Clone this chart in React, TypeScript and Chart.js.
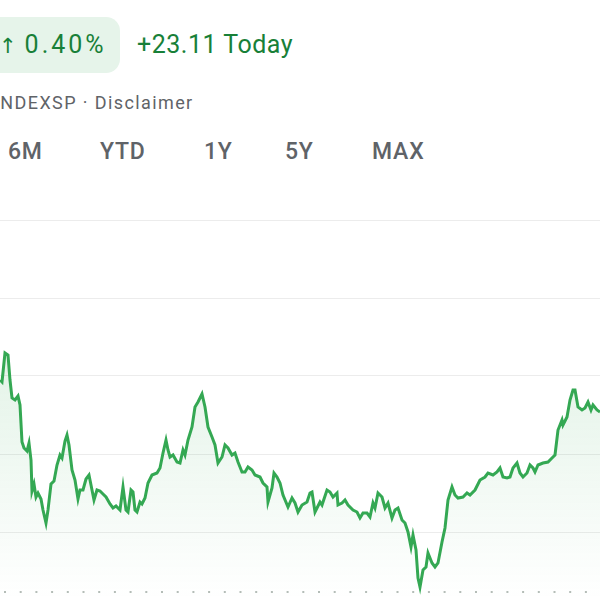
import React, { useEffect, useRef } from "react";
import { Chart, registerables } from "chart.js";

Chart.register(...registerables);

const days: number[] = [
  0, 1, 2.5, 4, 5, 6, 7.5, 9, 10, 11, 12, 13.5, 14.5, 15.5, 16, 17, 18, 19, 20.5, 21.5,
  23, 24, 25.5, 27, 28.5, 30, 31, 32.5, 33.5, 34.5, 36, 37.5, 39, 40, 41.5, 43, 44.5, 45.5, 47, 48.5,
  50, 51.5, 53, 55, 56.5, 58, 60, 61.5, 63, 64, 65.5, 66.5, 67.5, 68.5, 70, 71, 72.5, 74, 76, 78.5,
  80, 81.5, 83, 84, 85, 86.5, 88.5, 90, 91.5, 92.5, 94, 96, 97.5, 99, 101, 102.5, 104, 106, 107.5, 109,
  111, 112.5, 114, 116, 117.5, 119, 121, 122.5, 124, 126, 127.5, 130, 131.5, 133.5, 134, 136, 137, 138.5, 140, 141.5,
  144, 146, 147.5, 149, 151, 153.5, 155, 156, 157.5, 160, 161, 163.5, 165, 166.5, 168.5, 169, 171, 172.5, 174, 176.5,
  178.5, 180, 181.5, 183.5, 185, 186.5, 187.5, 189, 191, 192.5, 194, 196, 197.5, 199, 201, 202.5, 204, 205.5, 206.5, 208,
  209, 210, 211.5, 213, 214, 216, 217.5, 219, 221, 222.5, 224, 226, 227.5, 229, 231.5, 233.5, 235, 237.5, 240, 242.5,
  244, 246.5, 248.5, 250, 251.5, 253.5, 255, 256.5, 258.5, 260, 261.5, 263.5, 265, 266.5, 267.5, 269, 271.5, 274, 276, 277.5,
  279, 281, 281.5, 283.5, 285, 286.5, 287.5, 289, 291, 292.5, 294, 295.5, 296.5, 298.5, 300,
];

const closes: number[] = [
  5598, 5597, 5611.5, 5610.5, 5598, 5589, 5588, 5590, 5585.5, 5567, 5564, 5562.5, 5566.5, 5558, 5542.5, 5546, 5539.5, 5541.5, 5538.5, 5533,
  5526.5, 5533, 5546, 5547.5, 5555.5, 5560.5, 5559, 5567.5, 5570.5, 5565.5, 5553, 5548, 5538.5, 5543, 5543, 5548.5, 5550.5, 5545.5, 5538, 5543,
  5542.5, 5541, 5539.5, 5536, 5534, 5535, 5533, 5544.5, 5533, 5532, 5543, 5542, 5533, 5532, 5537, 5536, 5539, 5546.5, 5550.5, 5551.5,
  5554, 5561.5, 5568, 5563, 5559.5, 5560.5, 5557, 5556.5, 5563, 5560.5, 5568, 5574.5, 5584.5, 5587, 5591, 5584.5, 5574.5, 5569.5, 5565.5, 5556.5,
  5559.5, 5565.5, 5564, 5560.5, 5561.5, 5557, 5552, 5552, 5554.5, 5553, 5550.5, 5549.5, 5546.5, 5544.5, 5537, 5544, 5551.5, 5549.5, 5546.5, 5540.5,
  5534.5, 5539, 5536.5, 5532, 5535.5, 5537, 5541.5, 5542, 5532, 5537, 5535.5, 5543, 5542, 5539.5, 5541.5, 5535.5, 5536.5, 5538, 5535.5, 5533,
  5532, 5529, 5531.5, 5531.5, 5529.5, 5536.5, 5534, 5541.5, 5539.5, 5534, 5536.5, 5529, 5533, 5534, 5528, 5526.5, 5522, 5514.5, 5520.5, 5513,
  5499, 5494.5, 5503, 5504.5, 5511.5, 5506.5, 5504.5, 5506.5, 5517, 5524, 5538, 5544.5, 5540.5, 5539, 5539.5, 5541.5, 5540.5, 5543, 5548, 5549.5,
  5551.5, 5550.5, 5552, 5554, 5549.5, 5549, 5549.5, 5554, 5556.5, 5551.5, 5549.5, 5551.5, 5555.5, 5554, 5552, 5555.5, 5556.5, 5557, 5559, 5560.5,
  5573, 5578, 5575.5, 5579.5, 5588, 5593, 5593, 5584.5, 5583, 5584, 5587, 5583, 5585.5, 5583, 5582,
];

const gridValues: number[] = [5522, 5561, 5600, 5639, 5678];
const baselineValue = 5492;
const yMin = 5488;
const yMax = 5688;
const xMin = 0;
const xMax = 300;

const ranges: string[] = ["6M", "YTD", "1Y", "5Y", "MAX"];
const rangeLeft: number[] = [8, 100, 204, 285, 372];

const GREEN_TEXT = "#188038";
const LINE_GREEN = "#34a853";
const GREY = "#5f6368";
const FONT = "Roboto, 'Open Sans', Arial, sans-serif";

function PriceChart() {
  const ref = useRef<HTMLCanvasElement | null>(null);
  useEffect(() => {
    if (!ref.current) return;
    const points = days.map((d, i) => ({ x: d, y: closes[i] }));
    const chart = new Chart(ref.current, {
      type: "line",
      data: {
        datasets: [
          {
            data: points,
            borderColor: LINE_GREEN,
            borderWidth: 3,
            pointRadius: 0,
            tension: 0,
            fill: "start",
            backgroundColor: (ctx: any) => {
              const c = ctx.chart;
              const area = c.chartArea;
              if (!area) return "rgba(52,168,83,0.08)";
              const g = c.ctx.createLinearGradient(0, area.top + 140, 0, area.bottom);
              g.addColorStop(0, "rgba(52,168,83,0.14)");
              g.addColorStop(1, "rgba(52,168,83,0.0)");
              return g;
            },
            order: 0,
          },
          {
            data: [
              { x: xMin, y: baselineValue },
              { x: xMax, y: baselineValue },
            ],
            borderColor: "#b5bdb8",
            borderWidth: 2,
            borderDash: [2, 13.7],
            borderDashOffset: 11.7,
            pointRadius: 0,
            fill: false,
            order: 1,
          },
        ],
      },
      options: {
        animation: false,
        responsive: false,
        maintainAspectRatio: false,
        layout: { padding: 0 },
        plugins: { legend: { display: false }, tooltip: { enabled: false } },
        scales: {
          x: { type: "linear", min: xMin, max: xMax, display: false },
          y: {
            type: "linear",
            min: yMin,
            max: yMax,
            border: { display: false },
            grid: { color: "#ececec", lineWidth: 1, drawTicks: false },
            ticks: { display: false },
            afterBuildTicks: (scale: any) => {
              scale.ticks = gridValues.map((v) => ({ value: v }));
            },
            afterFit: (scale: any) => {
              scale.width = 0;
            },
          },
        },
      },
    });
    return () => chart.destroy();
  }, []);
  return (
    <canvas
      ref={ref}
      width={600}
      height={400}
      style={{ position: "absolute", left: 0, top: 200, width: 600, height: 400 }}
    />
  );
}

export default function App() {
  return (
    <div
      style={{
        position: "fixed",
        left: 0,
        top: 0,
        width: 600,
        height: 600,
        overflow: "hidden",
        background: "#ffffff",
        fontFamily: FONT,
      }}
    >
      <div
        style={{
          position: "absolute",
          left: -40,
          top: 17,
          width: 160,
          height: 56,
          borderRadius: 14,
          background: "#e6f4ea",
        }}
      />
      <div
        style={{
          position: "absolute",
          left: -1,
          top: 32,
          fontSize: 25,
          lineHeight: "25px",
          color: GREEN_TEXT,
          whiteSpace: "nowrap",
          fontWeight: 400,
        }}
      >
        <span style={{ fontFamily: "'DejaVu Sans', sans-serif", fontSize: 21, fontWeight: 400 }}>↑</span>
        <span style={{ marginLeft: 8, letterSpacing: "3px" }}>0.40%</span>
      </div>
      <div
        style={{
          position: "absolute",
          left: 137,
          top: 32,
          fontSize: 25,
          lineHeight: "25px",
          color: GREEN_TEXT,
          whiteSpace: "nowrap",
          fontWeight: 400,
          letterSpacing: "0.5px",
        }}
      >
        +23.11 Today
      </div>
      <div
        style={{
          position: "absolute",
          left: -6,
          top: 94,
          fontSize: 18,
          lineHeight: "18px",
          color: GREY,
          whiteSpace: "nowrap",
          letterSpacing: "1.4px",
        }}
      >
        INDEXSP · Disclaimer
      </div>
      {ranges.map((r, i) => (
        <div
          key={r}
          style={{
            position: "absolute",
            left: rangeLeft[i],
            top: 140,
            fontSize: 23,
            lineHeight: "23px",
            color: GREY,
            fontWeight: 500,
            whiteSpace: "nowrap",
            letterSpacing: "0.8px",
          }}
        >
          {r}
        </div>
      ))}
      <PriceChart />
    </div>
  );
}
